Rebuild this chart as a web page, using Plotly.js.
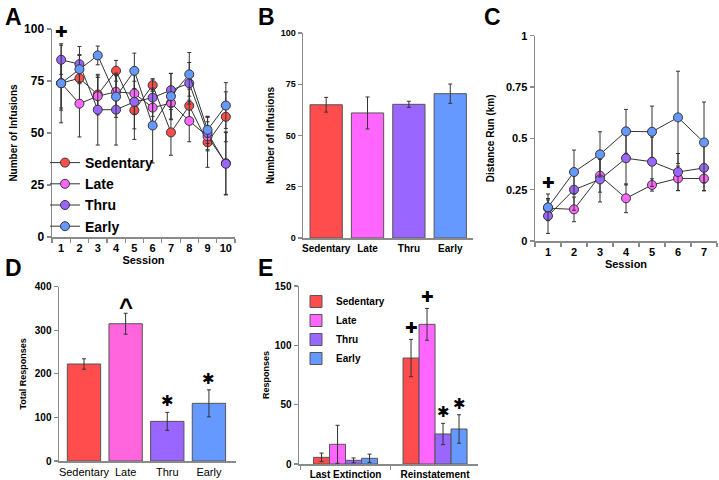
<!DOCTYPE html>
<html>
<head>
<meta charset="utf-8">
<script src="https://cdn.plot.ly/plotly-3.0.1.min.js"></script>
<style>html,body{margin:0;padding:0;background:#fff;}#chart{width:719px;height:480px;}</style>
</head>
<body>
<div id="chart"></div>
<script>
// ---------- data ----------
var groups = ['Sedentary', 'Late', 'Thru', 'Early'];
var sessionsA = ['1', '2', '3', '4', '5', '6', '7', '8', '9', '10'];
var infSed   = [74, 76.3, 68.5, 79.9, 60.9, 73, 50.3, 63.1, 45.5, 57.8];
var infLate  = [74, 64.1, 67.7, 69.8, 69, 62.2, 64.4, 55.8, 48.4, 35.5];
var infThru  = [85.2, 83.1, 61.2, 61.2, 65, 67, 70.6, 73.9, 50, 35.2];
var infEarly = [73.9, 80.7, 87.3, 67.5, 79.9, 53.6, 67.7, 78.2, 51.5, 63.2];
var errSedA   = [12, 11, 9, 5, 14, 3, 11, 8, 12, 12];
var errLateA  = [13, 16, 9, 9, 10, 8, 8, 10, 7, 15];
var errThruA  = [7, 8.5, 17, 17, 13, 9, 8, 10, 8, 15];
var errEarlyA = [19, 7, 4.5, 10, 8.5, 18, 11, 10.5, 6.5, 11];

var meanInf = [65, 61, 65.2, 70.4];
var errMeanInf = [3.6, 7.8, 1.5, 4.7];

var sessionsC = ['1', '2', '3', '4', '5', '6', '7'];
var runLate  = [0.16, 0.154, 0.318, 0.208, 0.273, 0.305, 0.304];
var runThru  = [0.122, 0.25, 0.30, 0.403, 0.386, 0.336, 0.356];
var runEarly = [0.164, 0.336, 0.422, 0.534, 0.532, 0.602, 0.48];
var errLateC  = [0.04, 0.06, 0.08, 0.07, 0.03, 0.06, 0.06];
var errThruC  = [0.085, 0.1, 0.11, 0.13, 0.12, 0.09, 0.11];
var errEarlyC = [0.065, 0.107, 0.11, 0.107, 0.125, 0.225, 0.197];

var totalResp = [222.6, 315, 91, 132.3];
var errTotalResp = [12, 24, 20.6, 31];
var markD = ['', '^', '✱', '✱'];

var phases = ['Last Extinction', 'Reinstatement'];
var respSed   = [5.6, 89.3];
var respLate  = [16.6, 117.7];
var respThru  = [3.1, 25.3];
var respEarly = [4.8, 29.5];
var errRespSed   = [3.6, 15.7];
var errRespLate  = [16, 13.4];
var errRespThru  = [2, 9];
var errRespEarly = [3.5, 12];
var markE = [['', '✚'], ['', '✚'], ['', '✱'], ['', '✱']];

var colors = ['#ff4d4d', '#ff66ff', '#9966ff', '#6699ff'];
var colorsD = ['#ff4d4d', '#ff66dd', '#9966ff', '#6699ff'];

// ---------- helpers ----------
var FONT = 'Arial, "Liberation Sans", sans-serif';
var W = 719, H = 480;
function px(x) { return x / W; }
function py(y) { return 1 - y / H; }
var axisGray = '#8a8a8a';
function errBar(arr) {
  return {type: 'data', array: arr, visible: true, color: '#333', thickness: 1, width: 2};
}

var traces = [];
var seriesA = [infSed, infLate, infThru, infEarly];
var errsA = [errSedA, errLateA, errThruA, errEarlyA];
for (var i = 0; i < 4; i++) {
  traces.push({
    type: 'scatter', mode: 'lines+markers', name: groups[i],
    x: sessionsA, y: seriesA[i], xaxis: 'x', yaxis: 'y',
    line: {color: '#333', width: 1},
    marker: {color: colors[i], size: 9, line: {color: '#333', width: 1}},
    error_y: errBar(errsA[i]), legend: 'legend', showlegend: true
  });
}
traces.push({
  type: 'bar', x: groups, y: meanInf, xaxis: 'x2', yaxis: 'y2', width: 0.78,
  marker: {color: colors, line: {color: '#555', width: 1}},
  error_y: errBar(errMeanInf), showlegend: false
});
var seriesC = [null, runLate, runThru, runEarly];
var errsC = [null, errLateC, errThruC, errEarlyC];
for (var j = 1; j < 4; j++) {
  traces.push({
    type: 'scatter', mode: 'lines+markers', name: groups[j],
    x: sessionsC, y: seriesC[j], xaxis: 'x3', yaxis: 'y3',
    line: {color: '#333', width: 1},
    marker: {color: colors[j], size: 9, line: {color: '#333', width: 1}},
    error_y: errBar(errsC[j]), showlegend: false
  });
}
traces.push({
  type: 'bar', x: groups, y: totalResp, xaxis: 'x4', yaxis: 'y4', width: 0.8,
  marker: {color: colorsD, line: {color: '#555', width: 1}},
  error_y: errBar(errTotalResp), showlegend: false
});
var seriesE = [respSed, respLate, respThru, respEarly];
var errsE = [errRespSed, errRespLate, errRespThru, errRespEarly];
for (var k = 0; k < 4; k++) {
  traces.push({
    type: 'bar', name: groups[k], x: phases, y: seriesE[k], xaxis: 'x5', yaxis: 'y5',
    marker: {color: colors[k], line: {color: '#555', width: 1}},
    error_y: errBar(errsE[k]), legend: 'legend2', showlegend: true
  });
}

function yAxis(dom, range, dtick, tsize, title, titleSize, standoff, anchor) {
  return {
    domain: dom, range: range, dtick: dtick, tick0: 0, anchor: anchor,
    showline: true, linecolor: axisGray, linewidth: 1.5,
    ticks: 'outside', ticklen: 4, tickcolor: axisGray, tickwidth: 1.2,
    showgrid: false, zeroline: false,
    tickfont: {family: FONT, size: tsize, color: '#000', weight: 'bold'},
    title: {text: title, standoff: standoff, font: {family: FONT, size: titleSize, color: '#000', weight: 'bold'}}
  };
}
function xAxis(dom, range, tsize, bold, title, ticks, anchor) {
  return {
    domain: dom, range: range, type: 'category', anchor: anchor, tickangle: 0,
    showline: true, linecolor: axisGray, linewidth: 1.5,
    ticks: ticks, ticklen: 4, tickcolor: axisGray, tickwidth: 1.2, tickson: 'boundaries',
    showgrid: false, zeroline: false,
    tickfont: {family: FONT, size: tsize, color: '#000', weight: bold ? 'bold' : 'normal'},
    title: {text: title, standoff: 2, font: {family: FONT, size: 11, color: '#000', weight: 'bold'}}
  };
}

var layout = {
  width: W, height: H, margin: {l: 0, r: 0, t: 0, b: 0},
  paper_bgcolor: '#fff', plot_bgcolor: 'rgba(0,0,0,0)',
  barmode: 'group', bargap: 0.285, bargroupgap: 0,
  font: {family: FONT, color: '#000'},
  xaxis:  xAxis([px(52), px(235)], [-0.5, 9.5], 11, true, 'Session', 'outside', 'y'),
  yaxis:  yAxis([py(237), py(29)], [0, 100], 25, 12, 'Number of Infusions', 10, 4, 'x'),
  xaxis2: xAxis([px(303), px(473)], [-0.56, 3.55], 10, true, '', '', 'y2'),
  yaxis2: yAxis([py(238), py(33)], [0, 100], 25, 9, 'Number of Infusions', 10, 4, 'x2'),
  xaxis3: xAxis([px(535), px(717)], [-0.5, 6.5], 11, true, 'Session', 'outside', 'y3'),
  yaxis3: yAxis([py(241), py(35.7)], [0, 1], 0.25, 11, 'Distance Run (km)', 10, 9, 'x3'),
  xaxis4: xAxis([px(59), px(236)], [-0.6, 3.65], 11, false, '', '', 'y4'),
  yaxis4: yAxis([py(461), py(286.7)], [0, 400], 100, 10, 'Total Responses', 9, 6, 'x4'),
  xaxis5: xAxis([px(299), px(478)], [-0.52, 1.48], 10, true, '', 'outside', 'y5'),
  yaxis5: yAxis([py(464), py(286)], [0, 150], 50, 10, 'Responses', 9, 3, 'x5'),
  legend: {
    x: px(45), y: py(147), xanchor: 'left', yanchor: 'top', bgcolor: 'rgba(0,0,0,0)',
    font: {family: FONT, size: 14, color: '#000', weight: 'bold'}, itemwidth: 30
  },
  legend2: {
    x: px(296), y: py(287), xanchor: 'left', yanchor: 'top', bgcolor: 'rgba(0,0,0,0)',
    font: {family: FONT, size: 10, color: '#000', weight: 'bold'}, itemwidth: 30
  },
  annotations: []
};

// panel letters
var letters = [['A', 3, 2], ['B', 256, 2], ['C', 482, 2], ['D', 3, 253], ['E', 256, 253]];
letters.forEach(function (l) {
  layout.annotations.push({
    text: l[0], xref: 'paper', yref: 'paper', x: px(l[1]), y: py(l[2]),
    xanchor: 'left', yanchor: 'top', showarrow: false,
    font: {family: FONT, size: 23, color: '#000', weight: 'bold'}
  });
});

// significance markers (x given as category index)
layout.annotations.push({
  text: '✚', xref: 'x', yref: 'y', x: 0, y: 98.5, showarrow: false,
  yanchor: 'middle', font: {family: 'DejaVu Sans', size: 15, color: '#000'}
});
layout.annotations.push({
  text: '✚', xref: 'x3', yref: 'y3', x: 0,
  y: runEarly[0] + errEarlyC[0] + 0.053, showarrow: false,
  yanchor: 'middle', font: {family: 'DejaVu Sans', size: 15, color: '#000'}
});
for (var d = 0; d < 4; d++) {
  if (!markD[d]) continue;
  var isCaret = markD[d] === '^';
  layout.annotations.push({
    text: markD[d], xref: 'x4', yref: 'y4', x: d,
    y: totalResp[d] + errTotalResp[d], yanchor: 'bottom', showarrow: false,
    yshift: isCaret ? -9 : 0,
    font: isCaret ? {family: FONT, size: 24, color: '#000', weight: 'bold'}
                  : {family: 'DejaVu Sans', size: 15, color: '#000'}
  });
}
var groupW = 1 - 0.285;
for (var g = 0; g < 4; g++) {
  for (var p = 0; p < phases.length; p++) {
    if (!markE[g][p]) continue;
    var off = (g - 1.5) * groupW / 4;
    layout.annotations.push({
      text: markE[g][p], xref: 'x5', yref: 'y5', x: p + off,
      y: seriesE[g][p] + errsE[g][p], yanchor: 'bottom', showarrow: false,
      font: {family: 'DejaVu Sans', size: 15, color: '#000'}
    });
  }
}

Plotly.newPlot('chart', traces, layout, {staticPlot: true, displayModeBar: false});
</script>
</body>
</html>
